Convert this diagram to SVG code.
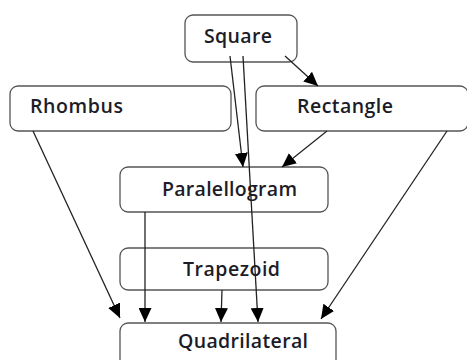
<svg xmlns="http://www.w3.org/2000/svg" width="467" height="360" viewBox="0 0 467 360">
<style>
.box{fill:#fff;stroke:#555;stroke-width:1.3}
.lbl{font-family:"Open Sans","Liberation Sans",sans-serif;font-size:19.5px;font-weight:600;fill:#1c1c28}
.con{stroke:#222;stroke-width:1.3;fill:none;marker-end:url(#ah)}
</style>
<defs>
<marker id="ah" markerWidth="14" markerHeight="13" refX="14" refY="6.5" orient="auto" markerUnits="userSpaceOnUse">
<path d="M0,0 L14,6.5 L0,13 Z" fill="#000"/>
</marker>
</defs>
<rect width="467" height="360" fill="#fff"/>
<g id="square">
<rect class="box" x="185" y="15" width="112" height="47" rx="8"/>
<text class="lbl" x="204" y="43" textLength="68" lengthAdjust="spacing">Square</text>
</g>
<g id="rhombus">
<rect class="box" x="10" y="86" width="221" height="45" rx="8"/>
<text class="lbl" x="30" y="113" textLength="93" lengthAdjust="spacing">Rhombus</text>
</g>
<g id="rectangle">
<rect class="box" x="256" y="86" width="212" height="45" rx="8"/>
<text class="lbl" x="297" y="113" textLength="96" lengthAdjust="spacing">Rectangle</text>
</g>
<g id="paralellogram">
<rect class="box" x="120" y="167" width="208" height="45" rx="8"/>
<text class="lbl" x="162" y="196" textLength="135" lengthAdjust="spacing">Paralellogram</text>
</g>
<g id="trapezoid">
<rect class="box" x="120" y="248" width="208" height="42" rx="8"/>
<text class="lbl" x="183" y="276" textLength="97" lengthAdjust="spacing">Trapezoid</text>
</g>
<g id="quadrilateral">
<rect class="box" x="120" y="323" width="216" height="50" rx="8"/>
<text class="lbl" x="178" y="348" textLength="130" lengthAdjust="spacing">Quadrilateral</text>
</g>
<g id="connectors">
<line class="con" x1="285" y1="56" x2="318" y2="86"/>
<line class="con" x1="230" y1="56" x2="243" y2="167"/>
<line class="con" x1="243" y1="56" x2="258" y2="322"/>
<line class="con" x1="327" y1="131" x2="282" y2="167"/>
<line class="con" x1="33" y1="131" x2="120" y2="318"/>
<line class="con" x1="447" y1="131" x2="321" y2="319"/>
<line class="con" x1="145" y1="212" x2="145" y2="322"/>
<line class="con" x1="222" y1="290" x2="221" y2="322"/>
</g>
</svg>
